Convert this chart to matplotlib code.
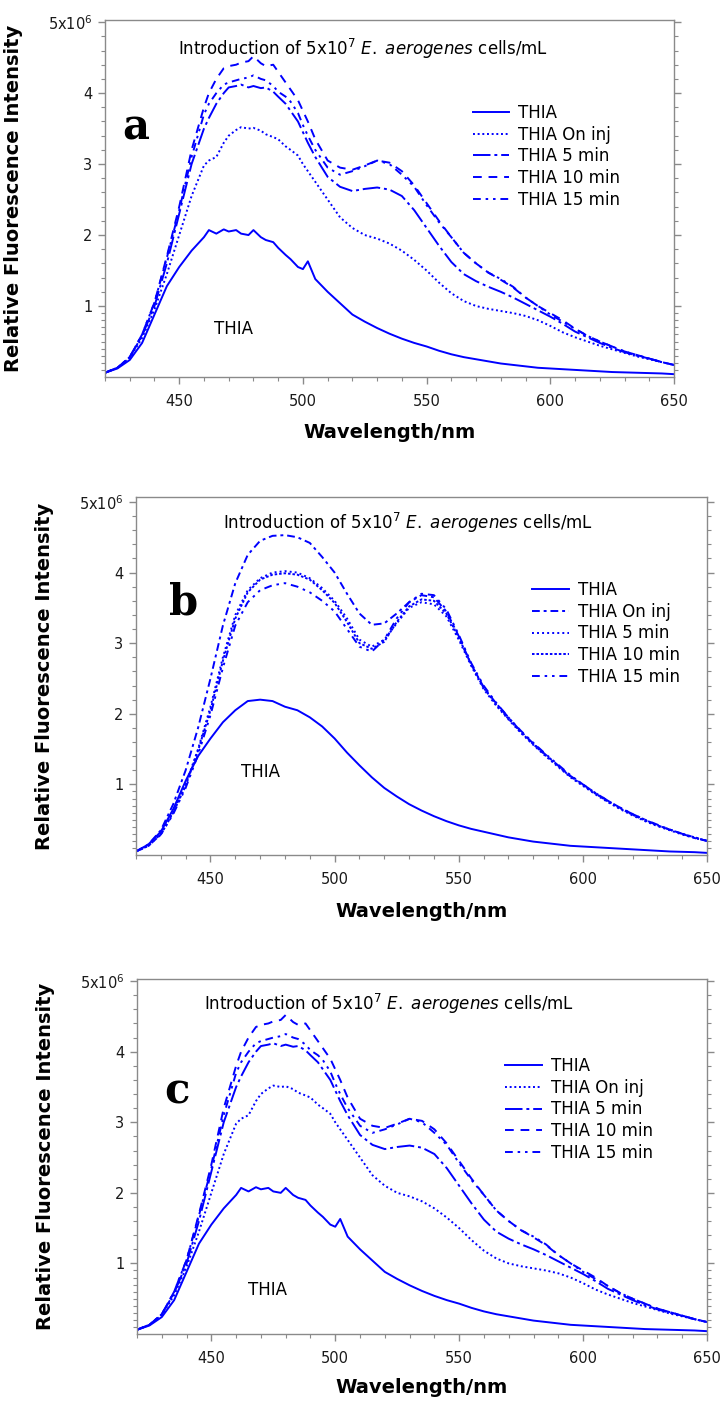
import matplotlib
matplotlib.use("Agg")
import matplotlib.pyplot as plt
from matplotlib.ticker import FixedLocator

plt.rcParams['font.family'] = ['DejaVu Sans']

# ---- panel a / c data (units of 1e6) ----
wl_a = [420, 425, 430, 435, 440, 445, 450, 455, 460, 462, 465, 468, 470, 473, 475,
        478, 480, 483, 485, 488, 490, 493, 495, 498, 500, 502, 505, 510, 515, 520,
        525, 530, 535, 540, 545, 550, 555, 560, 565, 570, 575, 580, 585, 590, 595,
        600, 605, 610, 615, 620, 625, 630, 635, 640, 645, 650]

thia_a = [0.06, 0.12, 0.24, 0.48, 0.88, 1.28, 1.55, 1.78, 1.97, 2.07, 2.02, 2.08, 2.05, 2.07, 2.02,
          2.00, 2.07, 1.97, 1.93, 1.90, 1.82, 1.72, 1.66, 1.55, 1.52, 1.63, 1.38, 1.20, 1.04, 0.88,
          0.78, 0.69, 0.61, 0.54, 0.48, 0.43, 0.37, 0.32, 0.28, 0.25, 0.22, 0.19, 0.17, 0.15, 0.13,
          0.12, 0.11, 0.10, 0.09, 0.08, 0.07, 0.065, 0.06, 0.055, 0.05, 0.04]

oninj_a = [0.06, 0.13, 0.27, 0.55, 0.95, 1.45, 2.0, 2.55, 2.98, 3.05, 3.1, 3.3, 3.4, 3.48, 3.52,
           3.5, 3.51, 3.47, 3.42, 3.38, 3.35, 3.25, 3.2, 3.12, 3.0, 2.9, 2.75, 2.5, 2.25, 2.1,
           2.0, 1.95, 1.88, 1.78, 1.65, 1.5, 1.33, 1.18, 1.07, 1.0, 0.96, 0.93, 0.9, 0.86, 0.8,
           0.72, 0.63, 0.56, 0.5, 0.44, 0.39, 0.34, 0.29, 0.25, 0.21, 0.17]

min5_a = [0.06, 0.13, 0.28, 0.58, 1.0, 1.6, 2.3, 3.0, 3.5, 3.65, 3.85, 4.0, 4.08, 4.1, 4.12,
          4.08, 4.1, 4.07, 4.08, 4.02, 3.95, 3.85, 3.75, 3.6, 3.45, 3.3, 3.1, 2.82, 2.68, 2.62,
          2.65, 2.67, 2.64, 2.55, 2.35, 2.1, 1.85, 1.62, 1.45, 1.35, 1.27, 1.2, 1.12, 1.03, 0.94,
          0.85, 0.75, 0.64, 0.56, 0.48, 0.41, 0.35, 0.3, 0.26, 0.21, 0.17]

min10_a = [0.06, 0.13, 0.28, 0.6, 1.05, 1.7, 2.4, 3.2, 3.8, 4.0, 4.2, 4.35, 4.38, 4.4, 4.43,
           4.45, 4.52, 4.42, 4.38, 4.4, 4.3, 4.15, 4.05, 3.9, 3.75, 3.6, 3.35, 3.05, 2.95, 2.92,
           2.98, 3.05, 3.02, 2.9, 2.7, 2.45, 2.2, 1.97, 1.75, 1.6, 1.47, 1.37, 1.26, 1.12, 1.0,
           0.9, 0.8, 0.68, 0.58, 0.5, 0.43, 0.36, 0.31, 0.26, 0.21, 0.17]

min15_a = [0.06, 0.13, 0.28, 0.6, 1.05, 1.68, 2.35, 3.1, 3.7, 3.85, 4.0, 4.12, 4.15, 4.18, 4.2,
           4.22, 4.25, 4.2, 4.18, 4.1, 4.02, 3.95, 3.88, 3.72, 3.55, 3.4, 3.2, 2.95, 2.85, 2.9,
           2.97, 3.05, 3.0, 2.85, 2.68, 2.42, 2.18, 1.97, 1.75, 1.6, 1.47, 1.38, 1.27, 1.12, 1.0,
           0.88, 0.78, 0.68, 0.58, 0.5, 0.43, 0.36, 0.31, 0.26, 0.21, 0.17]

# ---- panel b data ----
wl_b = [420, 425, 430, 435, 440, 445, 450, 455, 460, 465, 470, 475, 480, 485, 490, 495,
        500, 505, 510, 515, 520, 525, 530, 535, 540, 545, 550, 555, 560, 565, 570, 575,
        580, 585, 590, 595, 600, 605, 610, 615, 620, 625, 630, 635, 640, 645, 650]

thia_b = [0.05, 0.15, 0.33, 0.65, 1.05, 1.4, 1.65, 1.88, 2.05, 2.18, 2.2, 2.18, 2.1, 2.05, 1.95, 1.82,
          1.65, 1.45, 1.27, 1.1, 0.95, 0.83, 0.72, 0.63, 0.55, 0.48, 0.42, 0.37, 0.33, 0.29, 0.25, 0.22,
          0.19, 0.17, 0.15, 0.13, 0.12, 0.11, 0.1, 0.09, 0.08, 0.07, 0.06, 0.05, 0.045, 0.04, 0.03]

oninj_b = [0.05, 0.15, 0.35, 0.72, 1.2, 1.8, 2.5, 3.25, 3.85, 4.25, 4.45, 4.52, 4.53, 4.5, 4.42, 4.22,
           4.0, 3.7, 3.42, 3.26, 3.28, 3.42, 3.58, 3.68, 3.65, 3.45, 3.1, 2.7, 2.38, 2.15, 1.95, 1.75,
           1.58, 1.42, 1.27, 1.12, 1.0, 0.88, 0.77, 0.67, 0.58, 0.5, 0.42, 0.36, 0.3, 0.24, 0.2]

min5_b = [0.05, 0.13, 0.3, 0.62, 1.0, 1.5, 2.1, 2.8, 3.4, 3.75, 3.92, 4.0, 4.02, 4.0, 3.92, 3.78,
          3.6, 3.35, 3.05, 2.95, 3.05, 3.28, 3.5, 3.58, 3.55, 3.38, 3.05, 2.68, 2.35, 2.12, 1.92, 1.73,
          1.56, 1.4, 1.25, 1.1, 0.98, 0.86, 0.75, 0.65, 0.56, 0.48, 0.41, 0.35, 0.29, 0.24, 0.2]

min10_b = [0.05, 0.13, 0.29, 0.6, 0.98, 1.48, 2.05, 2.75, 3.35, 3.72, 3.9, 3.97, 3.99, 3.97, 3.9, 3.75,
           3.57, 3.3, 3.0, 2.92, 3.02, 3.3, 3.52, 3.62, 3.6, 3.42, 3.08, 2.7, 2.37, 2.13, 1.93, 1.74,
           1.57, 1.41, 1.26, 1.11, 0.99, 0.87, 0.76, 0.66, 0.57, 0.49, 0.42, 0.36, 0.3, 0.25, 0.2]

min15_b = [0.05, 0.13, 0.29, 0.58, 0.95, 1.42, 1.98, 2.65, 3.25, 3.58, 3.75, 3.82, 3.85, 3.8, 3.72, 3.6,
           3.45, 3.2, 2.95, 2.88, 3.05, 3.35, 3.58, 3.7, 3.68, 3.48, 3.12, 2.72, 2.4, 2.16, 1.95, 1.76,
           1.59, 1.43, 1.28, 1.13, 1.0, 0.88, 0.77, 0.67, 0.58, 0.5, 0.43, 0.36, 0.3, 0.25, 0.2]

labels = ['THIA', 'THIA On inj', 'THIA 5 min', 'THIA 10 min', 'THIA 15 min']
intro = r'Introduction of 5x10$^{7}$ $\it{E.\ aerogenes}$ cells/mL'

BLUE = '#0000ff'
GRAY = '#8a8a8a'

styles_a = ['-', (0, (1, 1.4)), (0, (9, 2, 1.5, 2)), (0, (4.5, 3.5)), (0, (4, 2.5, 1.3, 2.5, 1.3, 2.5))]
styles_b = ['-', (0, (4, 2, 1.5, 2)), (0, (1, 1.6)), (0, (1.3, 1)), (0, (4, 2.5, 1.3, 2.5, 1.3, 2.5))]

fig = plt.figure(figsize=(7.23, 14.03), dpi=100)


def panel(rect, ymax, wl, series, styles, letter, letter_xy, intro_xy, thia_xy, leg_xy, xlab_y):
    ax = fig.add_axes(rect)
    for ys, ls, lab in zip(series, styles, labels):
        ax.plot(wl, ys, color=BLUE, lw=1.4, linestyle=ls, label=lab)
    ax.set_xlim(420, 650)
    ax.set_ylim(0, ymax)
    ax.set_xticks([450, 500, 550, 600, 650])
    ax.xaxis.set_minor_locator(FixedLocator(list(range(420, 651, 10))))
    ax.set_yticks([1, 2, 3, 4, 5])
    ax.set_yticklabels(['1', '2', '3', '4', r'5x10$^{6}$'])
    minors = [i / 10 for i in range(1, 10)] + [1 + i * 0.2 for i in range(1, 20) if i % 5]
    ax.yaxis.set_minor_locator(FixedLocator(minors))
    for s in ax.spines.values():
        s.set_color(GRAY)
        s.set_linewidth(1.0)
    ax.tick_params(which='both', direction='out', color=GRAY, top=False, right=True,
                   labelsize=10.5, labelcolor='#1a1a1a')
    ax.tick_params(which='major', length=5, width=1)
    ax.tick_params(which='minor', length=3, width=0.8)
    ax.tick_params(axis='x', pad=7)
    ax.tick_params(axis='y', pad=4)
    ax.set_xlabel('Wavelength/nm', fontsize=14, fontweight='bold')
    ax.set_ylabel('Relative Fluorescence Intensity', fontsize=14, fontweight='bold')
    ax.xaxis.set_label_coords(0.5, xlab_y)
    ax.yaxis.set_label_coords(-0.144, 0.5)
    ax.text(letter_xy[0], letter_xy[1], letter, fontsize=30, fontweight='bold',
            family='DejaVu Serif', ha='center', va='center')
    ax.text(intro_xy[0], intro_xy[1], intro, fontsize=12, ha='left', va='center')
    ax.text(thia_xy[0], thia_xy[1], 'THIA', fontsize=12, ha='center', va='center')
    ax.legend(loc='upper left', bbox_to_anchor=leg_xy, frameon=False, fontsize=12,
              handlelength=2.2, handletextpad=0.55, labelspacing=0.22,
              borderpad=0, borderaxespad=0)
    return ax


panel([105 / 723, 1 - 377 / 1403, 569 / 723, 357 / 1403], 5.03, wl_a,
      [thia_a, oninj_a, min5_a, min10_a, min15_a], styles_a,
      'a', (432.5, 3.52), (449.5, 4.62), (472, 0.68), (0.646, 0.765), -0.13)

panel([136 / 723, 1 - 855 / 1403, 571 / 723, 358 / 1403], 5.07, wl_b,
      [thia_b, oninj_b, min5_b, min10_b, min15_b], styles_b,
      'b', (439.3, 3.58), (455, 4.7), (470, 1.17), (0.694, 0.765), -0.13)

panel([137 / 723, 1 - 1334 / 1403, 570 / 723, 355 / 1403], 5.03, wl_a,
      [thia_a, oninj_a, min5_a, min10_a, min15_a], styles_a,
      'c', (436, 3.44), (447, 4.68), (472.5, 0.63), (0.646, 0.78), -0.125)

fig.savefig('out.png', dpi=100)
